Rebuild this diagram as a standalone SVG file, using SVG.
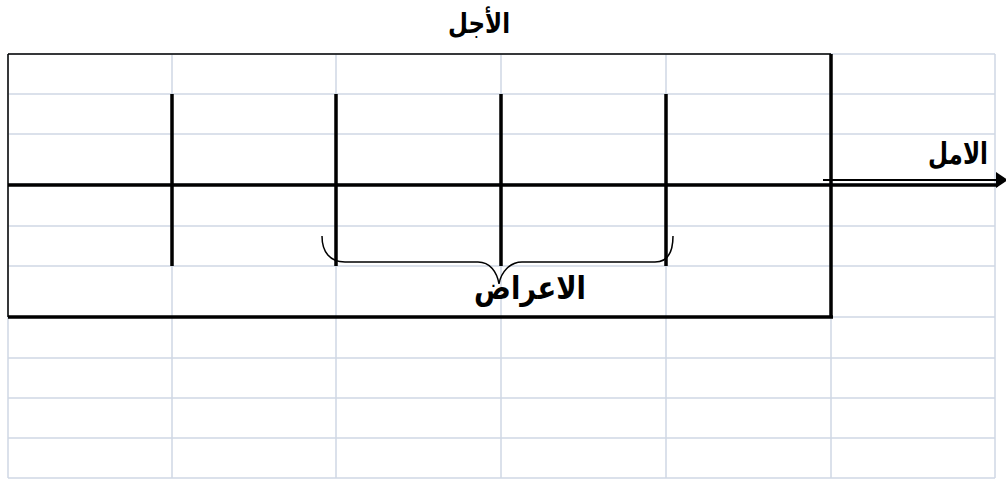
<svg xmlns="http://www.w3.org/2000/svg" width="1006" height="482" viewBox="0 0 1006 482">
<style>
.grid{stroke:#D0D7E5;stroke-width:1.5;fill:none}
.thick{stroke:#000;stroke-width:3.5;fill:none}
.thin{stroke:#000;stroke-width:1.5;fill:none}
.lbl{font-family:"DejaVu Sans",sans-serif;font-weight:bold;fill:#000;text-anchor:middle}
</style>
<defs>
<marker id="ah" markerWidth="12" markerHeight="16" refX="0" refY="8" orient="auto" markerUnits="userSpaceOnUse">
<path d="M0,0 L12,8 L0,16 Z" fill="#000"/>
</marker>
</defs>
<rect width="1006" height="482" fill="#fff"/>
<g id="grid" class="grid">
<path d="M8,54V478M172,54V478M336,54V478M501,54V478M666,54V478M831,54V478M995,54V478"/>
<path d="M8,54H995M8,94H995M8,134H995M8,184H995M8,226H995M8,266H995M8,317H995M8,358H995M8,398H995M8,438H995M8,478H995"/>
</g>
<g id="frame">
<path class="thin" d="M8,54H831M8,54V317"/>
<path class="thick" d="M831,54V317M8,317H833"/>
</g>
<g id="ticks" class="thick">
<path d="M172,94V266M336,94V266M501,94V266M666,94V266"/>
</g>
<g id="connectors">
<path class="thick" d="M8,185H998"/>
<path d="M823,180H996" stroke="#000" stroke-width="2" marker-end="url(#ah)"/>
<path class="thin" d="M322,236C322,252 330,262 345,262L478,262C490,262 497,272 499,284C501,272 510,262 522,262L655,262C668,262 673,252 673,236"/>
</g>
<g id="label-ajal"><text class="lbl" x="479" y="33" font-size="28" textLength="62" lengthAdjust="spacingAndGlyphs">الأجل</text></g>
<g id="label-amal"><text class="lbl" x="958" y="164" font-size="30" textLength="60" lengthAdjust="spacingAndGlyphs">الامل</text></g>
<g id="label-aarad"><text class="lbl" x="530" y="299" font-size="32" textLength="112" lengthAdjust="spacingAndGlyphs">الاعراض</text></g>
</svg>
